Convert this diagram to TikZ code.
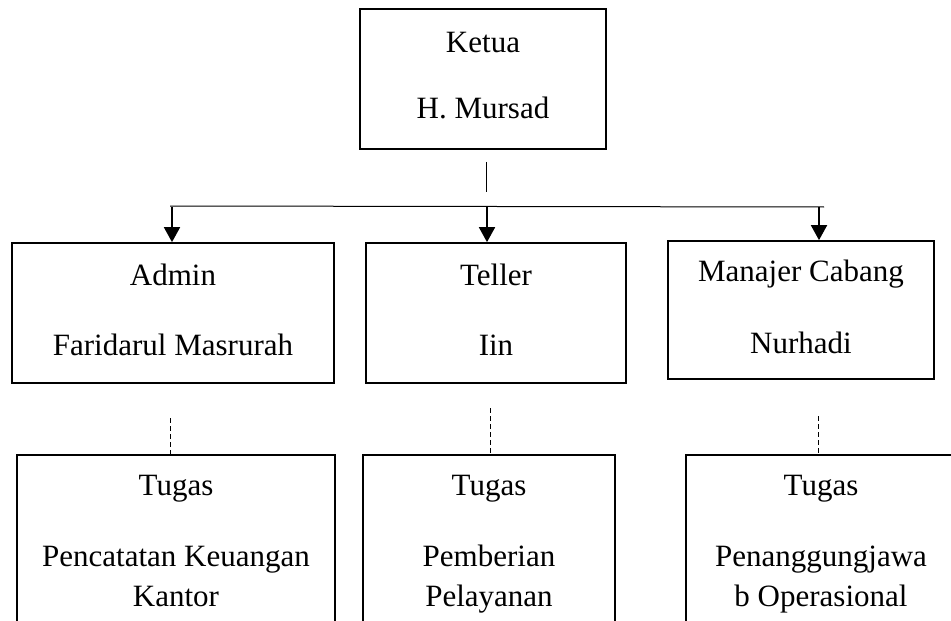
\documentclass[tikz,border=0pt]{standalone}
\usepackage{fontspec}
\setmainfont{Liberation Serif}
\usetikzlibrary{arrows.meta}
\tikzset{
	box/.style = { draw, line width=0.85pt, inner sep=0pt, align=center, font=\fontsize{15.5}{20}\selectfont, execute at end node={\vphantom{g}} },
	arrow/.style = { line width=0.9pt, color=black, -{Triangle[length=7.5pt,width=8pt]} },
	link/.style = { line width=0.5pt },
	task/.style = { line width=0.5pt, dash pattern=on 2.5pt off 1.5pt },
}

\begin{document}
\begin{tikzpicture}[x=0.5pt, y=-0.5pt]
\useasboundingbox (0,0) rectangle (951,620);
\clip (0,0) rectangle (951,620);

\node (ketua) [box, minimum width=123pt, minimum height=70pt] at (483,79) {Ketua\\[13pt]H. Mursad};

\node (admin) [box, minimum width=161pt, minimum height=70pt] at (173,313) {Admin\\[15pt]Faridarul Masrurah};
\node (teller) [box, minimum width=130pt, minimum height=70pt] at (496,313) {Teller\\[15pt]Iin};
\node (manajer) [box, minimum width=133pt, minimum height=69pt] at (801,310) {Manajer Cabang\\[16pt]Nurhadi};

\node (tugasadmin) [box, minimum width=159pt, minimum height=89.5pt] at (176,544.5) {Tugas\\[15.5pt]Pencatatan Keuangan\\Kantor};
\node (tugasteller) [box, minimum width=126pt, minimum height=89.5pt] at (489,544.5) {Tugas\\[15.5pt]Pemberian\\Pelayanan};
\node (tugasmanajer) [box, minimum width=135pt, minimum height=89.5pt] at (821,544.5) {Tugas\\[15.5pt]Penanggungjawa\\b Operasional};

\coordinate (stemtop) at (486,162);
\coordinate (stembot) at (486,192);
\coordinate (barL) at (170,206);
\coordinate (barR) at (824,207);
\coordinate (bar1) at (172,207);
\coordinate (bar2) at (487,207);
\coordinate (bar3) at (819,207);
\coordinate (dash1) at (170,418);
\coordinate (dash2) at (490,408);
\coordinate (dash3) at (818,416);

\draw[link] (stemtop) -- (stembot);
\draw[link] (barL) -- (barR);
\draw[arrow] (bar1) -- (bar1 |- admin.north);
\draw[arrow] (bar2) -- (bar2 |- teller.north);
\draw[arrow] (bar3) -- (bar3 |- manajer.north);

\draw[task] (dash1) -- (dash1 |- tugasadmin.north);
\draw[task] (dash2) -- (dash2 |- tugasteller.north);
\draw[task] (dash3) -- (dash3 |- tugasmanajer.north);
\end{tikzpicture}
\end{document}
